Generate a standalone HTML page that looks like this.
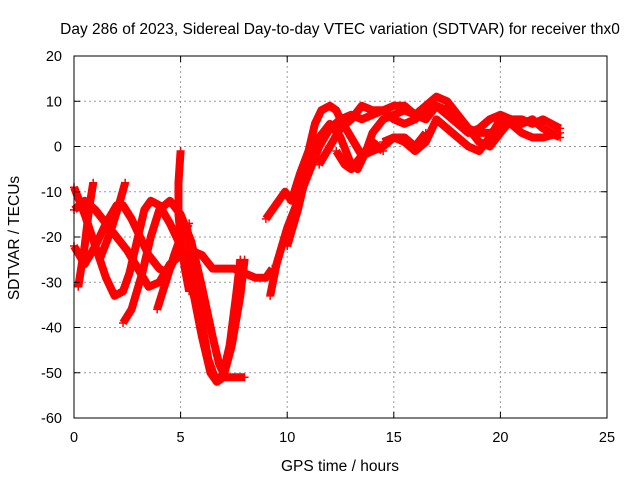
<!DOCTYPE html>
<html><head><meta charset="utf-8"><style>
body{margin:0;background:#fff}
svg{display:block;font-family:"Liberation Sans",sans-serif}
</style></head><body>
<svg id="chart" width="640" height="480">
<rect width="640" height="480" fill="#fff"/>
<text x="340" y="34" font-size="15.5" text-anchor="middle">Day 286 of 2023, Sidereal Day-to-day VTEC variation (SDTVAR) for receiver thx0</text>
<g id="grid"></g>
<g id="series"></g>
<rect x="74" y="56" width="533" height="362" fill="none" stroke="#000" stroke-width="1"/>
<g id="axes"></g>
<text x="340" y="471" font-size="15.5" text-anchor="middle">GPS time / hours</text>
<text transform="translate(19,238) rotate(-90)" font-size="15.5" text-anchor="middle">SDTVAR / TECUs</text>
</svg>
<script>
const xTicks=[0,5,10,15,20,25];
const yTicks=[-60,-50,-40,-30,-20,-10,0,10,20];
const track1=[[0,-9],[0.5,-15],[1,-22],[1.5,-29],[1.9,-33],[2.3,-32],[2.6,-28],[3,-20],[3.3,-14],[3.6,-12],[4,-13],[4.5,-17],[5,-22],[5.5,-30],[6,-42],[6.4,-50],[6.7,-52],[7,-51],[7.4,-44],[7.8,-33],[8,-25]];
const track2=[[0.2,-31],[0.5,-22],[0.7,-14],[0.9,-8]];
const track3=[[0,-14],[0.5,-12],[1,-14],[1.5,-17],[2,-20],[2.5,-23],[3,-27],[3.5,-31],[4,-30],[4.5,-26],[5,-24],[5.5,-23],[6,-24],[6.5,-27],[7,-27],[7.5,-27],[8,-28],[8.5,-29],[9,-29],[9.3,-27]];
const track4=[[0,-22],[0.5,-26],[1,-22],[1.5,-17],[2,-13],[2.3,-13],[2.7,-16],[3,-19],[3.5,-24],[4,-27],[4.4,-28],[4.8,-24],[5.1,-19],[5.4,-17]];
const track5=[[2.3,-39],[2.7,-36],[3.2,-28],[3.6,-20],[4,-14],[4.5,-12],[5,-15],[5.5,-21],[6,-31],[6.5,-42],[6.8,-48],[7,-50],[7.3,-44],[7.6,-33],[7.8,-25]];
const track6=[[1.2,-25],[1.7,-19],[2.1,-13],[2.4,-8]];
const track7=[[3.9,-36],[4.3,-30],[4.7,-24],[5,-20],[5.3,-18],[5.6,-27],[6,-39],[6.3,-47],[6.6,-51],[7,-51],[7.5,-51],[8,-51]];
const track8=[[5,-1],[4.9,-8],[4.9,-15],[5,-20],[5.2,-27],[5.4,-32]];
const track9=[[9.2,-33],[9.5,-26],[10,-18],[10.5,-12],[11,-6],[11.5,0],[12,4],[12.5,6],[13,7],[13.5,6],[14,7],[14.5,8],[15,6],[15.5,5],[16,6],[16.5,8],[17,9],[17.5,8],[18,6],[18.5,4],[19,3],[19.5,3],[20,4]];
const track10=[[9,-16],[9.9,-10],[10.2,-12],[10.6,-6],[11,-1],[11.3,5],[11.6,8],[12,9],[12.3,8],[12.5,6],[13,2],[13.5,-2],[14,-1],[14.5,0],[15,2],[15.5,2],[16,0],[16.5,3]];
const track11=[[10,-22],[10.5,-14],[11,-4],[11.5,2],[12,5],[12.5,2],[13,-4],[13.3,-5],[13.7,-1],[14,3],[14.5,6],[15,7],[15.5,8],[16,7],[16.5,9],[17,11],[17.5,10],[18,7],[18.5,4],[19,1],[19.5,0],[20,3],[20.5,6],[21,6],[21.5,5],[22,6],[22.8,4]];
const track12=[[11.5,-4],[12,0],[12.5,4],[13,6],[13.5,9],[14,8],[14.5,8],[15,9],[15.5,9],[16,7],[16.5,6],[17,9],[17.5,7],[18,5],[18.5,3],[19,4],[19.5,6],[20,7],[20.5,6],[21,5],[21.5,6],[22,4],[22.8,2]];
const track13=[[14.5,1],[15,2],[15.5,1],[16,-1],[16.5,1],[17,6],[17.5,4],[18,2],[18.5,0],[19,-1],[19.5,2],[20,6],[20.5,5],[21,3],[21.5,2],[22,2],[22.8,3]];
const track14=[[12.3,-1],[12.7,-4],[13,-5],[13.5,-2],[14,1],[14.5,-1]];
const tracks=[track1,track2,track3,track4,track5,track6,track7,track8,track9,track10,track11,track12,track13,track14];

const X0=74,X1=607,Y0=418,Y1=56,XMIN=0,XMAX=25,YMIN=-60,YMAX=20;
function xs(v){return X0+(v-XMIN)/(XMAX-XMIN)*(X1-X0);}
function ys(v){return Y0-(v-YMIN)/(YMAX-YMIN)*(Y0-Y1);}
const NS="http://www.w3.org/2000/svg";
const grid=document.getElementById('grid'),axes=document.getElementById('axes'),ser=document.getElementById('series');
function mk(tag,attrs,parent){const e=document.createElementNS(NS,tag);for(const k in attrs)e.setAttribute(k,attrs[k]);parent.appendChild(e);return e;}
xTicks.forEach(t=>{
  const x=xs(t);
  if(t>XMIN&&t<XMAX){const g=mk('line',{x1:x,x2:x,y1:Y1,y2:Y0,stroke:'#999','stroke-dasharray':'2,3'},grid);
  
  }
  mk('line',{x1:x,x2:x,y1:Y0,y2:Y0-6,stroke:'#000'},axes);
  mk('line',{x1:x,x2:x,y1:Y1,y2:Y1+6,stroke:'#000'},axes);
  const l=mk('text',{x:x,y:Y0+24,'font-size':14.5,'text-anchor':'middle'},axes);l.textContent=t;
  
  
});
yTicks.forEach(t=>{
  const y=ys(t);
  if(t>YMIN&&t<YMAX){const g=mk('line',{x1:X0,x2:X1,y1:y,y2:y,stroke:'#999','stroke-dasharray':'2,3'},grid);
  
  }
  mk('line',{x1:X0,x2:X0+6,y1:y,y2:y,stroke:'#000'},axes);
  mk('line',{x1:X1,x2:X1-6,y1:y,y2:y,stroke:'#000'},axes);
  const l=mk('text',{x:X0-12,y:y+5,'font-size':14.5,'text-anchor':'end'},axes);l.textContent=t;
  
  
});
tracks.forEach((tr,i)=>{
  const p=mk('polyline',{points:tr.map(d=>xs(d[0])+','+ys(d[1])).join(' '),fill:'none',stroke:'#f00','stroke-width':8,'stroke-linejoin':'round','stroke-linecap':'butt'},ser);
  
  
  [tr[0],tr[tr.length-1]].forEach(d=>{
    const m=mk('path',{d:`M${xs(d[0])-4},${ys(d[1])}h8M${xs(d[0])},${ys(d[1])-4}v8`,stroke:'#f00','stroke-width':1.5},ser);
    
    
  });
});
</script>
</body></html>
